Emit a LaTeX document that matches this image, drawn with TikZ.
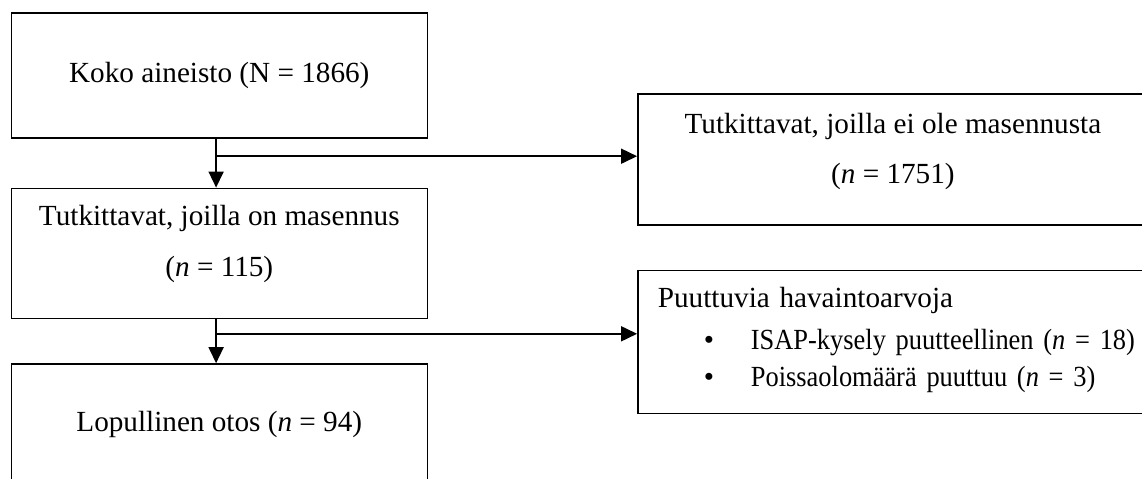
\documentclass[tikz,border=0pt]{standalone}
\usepackage{fontspec}
\setmainfont{Liberation Serif}
\newfontfamily\tiivis[FakeStretch=0.905]{Liberation Serif}
\usepackage{tikz}
\usetikzlibrary{arrows.meta,positioning}

\begin{document}
\begin{tikzpicture}[x=1pt,y=1pt]
                \tikzstyle{block} = [draw, rectangle, line width=0.8pt, inner sep=0pt, font=\fontsize{14.6}{25.3}\selectfont]
                \tikzstyle{flow} = [-{Triangle[length=8pt,width=7.5pt]}, line width=0.8pt]

                \useasboundingbox (0,0) rectangle (571,-239);
                \clip (0,0) rectangle (571,-239);

                \node [block, anchor=north west, minimum width=208pt, minimum height=62.5pt] (koko) at (5.25,-6) {Koko aineisto (N = 1866)};
                \node [block, below = 24.5pt of koko, minimum width=208pt, minimum height=65pt, align=center] (masennus) {Tutkittavat, joilla on masennus\\(\textit{n} = 115)\rule[-12.5pt]{0pt}{12.5pt}};
                \node [block, below = 22pt of masennus, minimum width=208pt, minimum height=60pt] (otos) {Lopullinen otos (\textit{n} = 94)};
                \node [block, below right = 40.5pt and 104.5pt of koko.north east, minimum width=255pt, minimum height=65.5pt, align=center] (eimas) {Tutkittavat, joilla ei ole masennusta\\(\textit{n} = 1751)\rule[-11pt]{0pt}{11pt}};
                \node [block, below = 22pt of eimas.south west, anchor=north west, minimum width=255pt, minimum height=71.5pt, text width=235pt, align=left, font=\fontsize{14.6}{18.4}\selectfont] (puuttuvat) {Puuttuvia havaintoarvoja\\[2.4pt]
                  \hspace*{23pt}\makebox[23.5pt][l]{\textbullet}\mbox{\tiivis ISAP-kysely puutteellinen (\textit{n} = 18)}\\
                  \hspace*{23pt}\makebox[23.5pt][l]{\textbullet}\mbox{\tiivis Poissaolomäärä puuttuu (\textit{n} = 3)}\rule[-5pt]{0pt}{5pt}};

                \coordinate [below = 8.8pt of koko, xshift=-1.6pt] (haara1);
                \coordinate [below = 7.3pt of masennus, xshift=-1.6pt] (haara2);

                \draw [flow] ([xshift=-1.6pt]koko.south) -- ([xshift=-1.6pt]masennus.north);
                \draw [flow] (haara1) -- (haara1 -| eimas.west);
                \draw [flow] ([xshift=-1.6pt]masennus.south) -- ([xshift=-1.6pt]otos.north);
                \draw [flow] (haara2) -- (haara2 -| puuttuvat.west);
\end{tikzpicture}
\end{document}
